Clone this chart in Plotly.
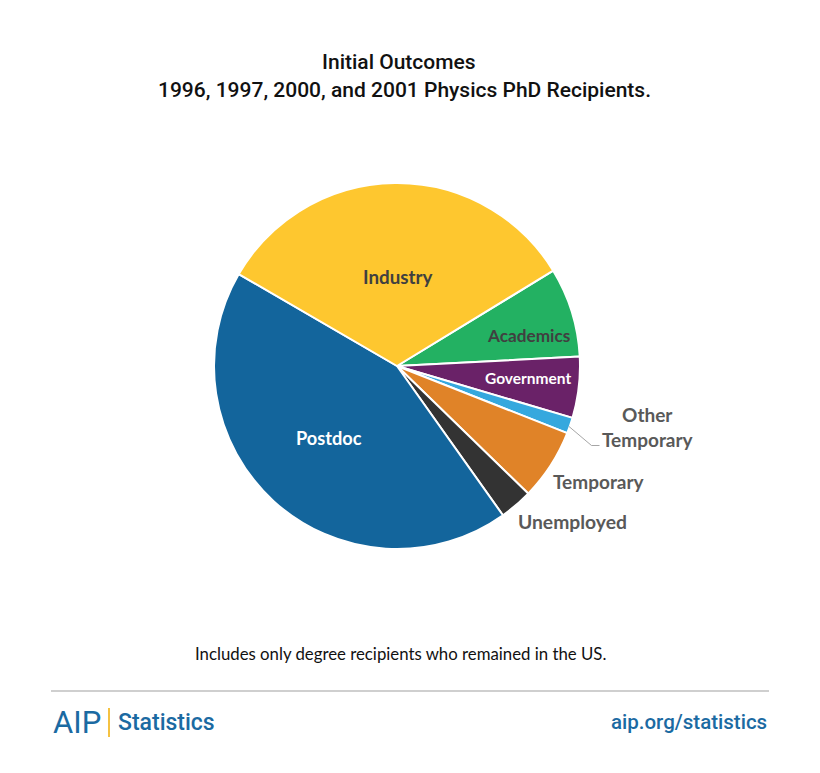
import plotly.graph_objects as go

categories = ["Academics", "Government", "Other Temporary", "Temporary", "Unemployed", "Postdoc", "Industry"]
values = [7.9, 5.4, 1.4, 6.3, 2.9, 43.2, 32.9]
colors = ["#23B162", "#6A2268", "#35A8DE", "#E08328", "#333333", "#13659C", "#FEC72F"]
title_lines = ["Initial Outcomes", "1996, 1997, 2000, and 2001 Physics PhD Recipients."]
footnote = "Includes only degree recipients who remained in the US."

W, H = 820, 773
cx, cy, r = 397, 366, 183

fig = go.Figure(go.Pie(
    labels=categories, values=values, sort=False, direction="clockwise",
    rotation=58.6, textinfo="none", hoverinfo="label+percent",
    marker=dict(colors=colors, line=dict(color="white", width=2)),
    domain=dict(x=[(cx - r) / W, (cx + r) / W], y=[1 - (cy + r) / H, 1 - (cy - r) / H]),
    showlegend=False,
))

def px(x):
    return x / W

def py(y):
    return 1 - y / H

lab_font = "Lato, Open Sans, sans-serif"
ann = []

def add(text, x, y, size, color, family=lab_font, xanchor="center", weight=None):
    f = dict(family=family, size=size, color=color)
    if weight:
        f["weight"] = weight
    ann.append(dict(x=px(x), y=py(y), xref="paper", yref="paper", text=text,
                    xanchor=xanchor, yanchor="middle", showarrow=False, font=f))

# slice labels (pixel centre, colour, size)
label_pos = {
    "Industry": (398, 276, "#404040", 18.8),
    "Academics": (528, 335, "#404040", 17.2),
    "Government": (527.5, 378, "#FFFFFF", 15.5),
    "Postdoc": (329, 438, "#FFFFFF", 18.2),
    "Temporary": (599, 481, "#595959", 19),
    "Unemployed": (572, 521, "#595959", 19.3),
}
for name, (x, y, c, s) in label_pos.items():
    add("<b>%s</b>" % name, x, y, s, c)
ot = categories[2].split(" ")
add("<b>%s<br>%s</b>" % (ot[0], ot[1]), 648, 426.5, 19, "#595959")

title_font = "Roboto, sans-serif"
add(title_lines[0], 399, 62, 21, "#111111", family=title_font, weight=500)
add(title_lines[1], 404, 90, 21, "#111111", family=title_font, weight=500)
add(footnote, 400, 653, 16.8, "#111111")
add("AIP", 51, 722, 31, "#1B6AA2", family=title_font, xanchor="left", weight=400)
add("Statistics", 116, 722, 23, "#1B6AA2", family=title_font, xanchor="left", weight=500)
add("aip.org/statistics", 769, 722, 20.5, "#1B6AA2", family=title_font, xanchor="right", weight=500)

shapes = [
    dict(type="line", xref="paper", yref="paper", x0=px(51), x1=px(769), y0=py(691), y1=py(691),
         line=dict(color="#BFBFBF", width=1.5)),
    dict(type="line", xref="paper", yref="paper", x0=px(109), x1=px(109), y0=py(708), y1=py(737),
         line=dict(color="#F5C242", width=2)),
    dict(type="path", xref="paper", yref="paper",
         path="M %f %f L %f %f L %f %f" % (px(569), py(426.5), px(591.5), py(445.5), px(599.5), py(445.5)),
         line=dict(color="#A6A6A6", width=1)),
]

fig.update_layout(width=W, height=H, margin=dict(l=0, r=0, t=0, b=0),
                  paper_bgcolor="white", plot_bgcolor="white",
                  annotations=ann, shapes=shapes)
fig.write_html("out.html", config={"displayModeBar": False},
               post_script="document.body.style.margin='0';")
